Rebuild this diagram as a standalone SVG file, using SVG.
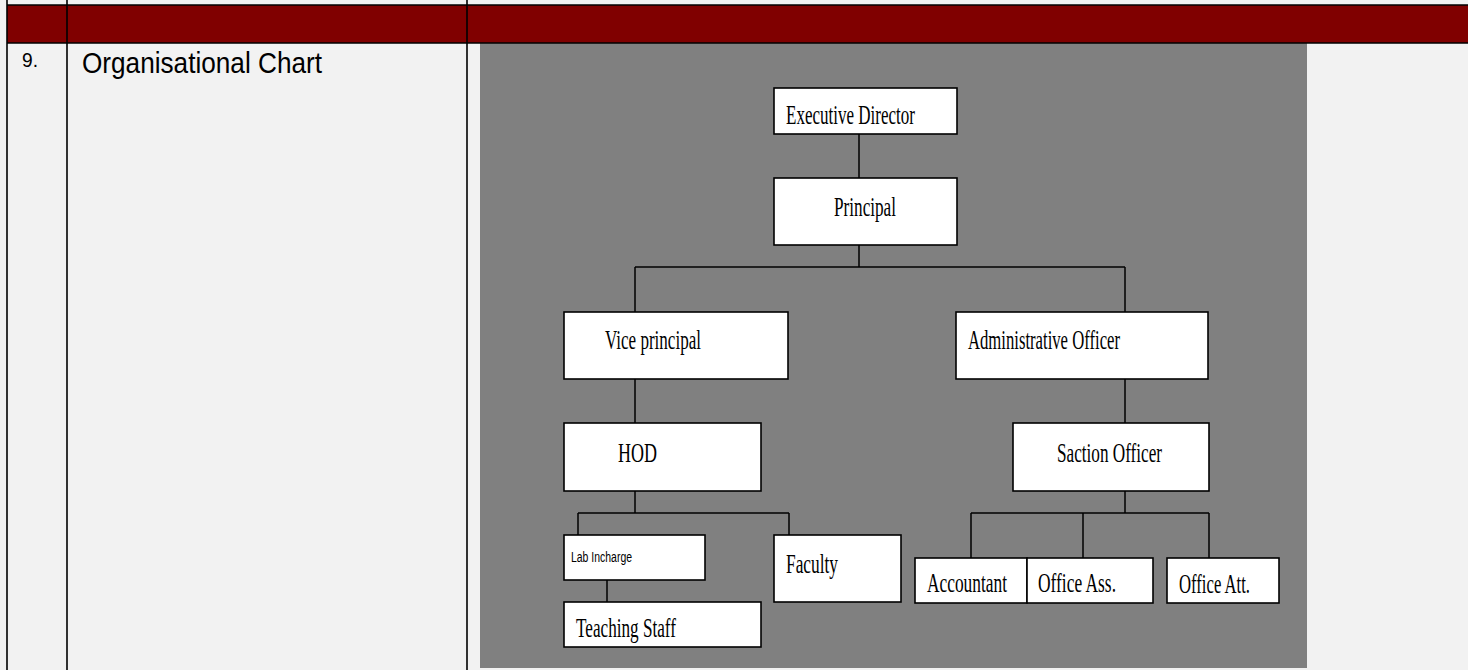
<svg xmlns="http://www.w3.org/2000/svg" width="1468" height="670" viewBox="0 0 1468 670">
  <style>
    .grid { stroke: #000; stroke-width: 1.6; fill: none; }
    .box { fill: #fff; stroke: #000; stroke-width: 1.6; }
    .lbl { font-family: "Liberation Serif", "Times New Roman", serif; font-size: 28px; fill: #000; }
    .sm { font-family: "Liberation Sans", Arial, sans-serif; font-size: 14px; fill: #000; }
    .cell { font-family: "Liberation Sans", Arial, sans-serif; fill: #000; }
    .conn line { stroke: #000; stroke-width: 1.5; }
  </style>
  <rect x="0" y="0" width="1468" height="670" fill="#f2f2f2"/>
  <rect x="7" y="5" width="1461" height="38" fill="#800000"/>
  <rect x="480" y="43" width="827" height="625" fill="#808080"/>
  <g id="table">
    <line class="grid" x1="7" y1="5" x2="1468" y2="5"/>
    <line class="grid" x1="7" y1="43" x2="1468" y2="43"/>
    <line class="grid" x1="7" y1="0" x2="7" y2="670"/>
    <line class="grid" x1="67" y1="0" x2="67" y2="670"/>
    <line class="grid" x1="467" y1="0" x2="467" y2="670"/>
    <text class="cell" x="22" y="67" font-size="21" textLength="16" lengthAdjust="spacingAndGlyphs">9.</text>
    <text class="cell" x="82" y="73" font-size="29" textLength="240" lengthAdjust="spacingAndGlyphs">Organisational Chart</text>
  </g>
  <g id="connectors" class="conn">
    <line x1="859" y1="134" x2="859" y2="178"/>
    <line x1="859" y1="245" x2="859" y2="267"/>
    <line x1="635" y1="267" x2="1125" y2="267"/>
    <line x1="635" y1="267" x2="635" y2="312"/>
    <line x1="1125" y1="267" x2="1125" y2="312"/>
    <line x1="635" y1="379" x2="635" y2="423"/>
    <line x1="1125" y1="379" x2="1125" y2="423"/>
    <line x1="635" y1="491" x2="635" y2="513"/>
    <line x1="578" y1="513" x2="789" y2="513"/>
    <line x1="578" y1="513" x2="578" y2="535"/>
    <line x1="789" y1="513" x2="789" y2="535"/>
    <line x1="607" y1="580" x2="607" y2="602"/>
    <line x1="1125" y1="491" x2="1125" y2="513"/>
    <line x1="971" y1="513" x2="1209" y2="513"/>
    <line x1="971" y1="513" x2="971" y2="558"/>
    <line x1="1083" y1="513" x2="1083" y2="558"/>
    <line x1="1209" y1="513" x2="1209" y2="558"/>
  </g>
  <g id="exec"><rect class="box" x="774" y="88" width="183" height="46"/><text class="lbl" x="786" y="124" textLength="129" lengthAdjust="spacingAndGlyphs">Executive Director</text></g>
  <g id="principal"><rect class="box" x="774" y="178" width="183" height="67"/><text class="lbl" x="834" y="216" textLength="62" lengthAdjust="spacingAndGlyphs">Principal</text></g>
  <g id="vice"><rect class="box" x="564" y="312" width="224" height="67"/><text class="lbl" x="605" y="349" textLength="96" lengthAdjust="spacingAndGlyphs">Vice principal</text></g>
  <g id="admin"><rect class="box" x="956" y="312" width="252" height="67"/><text class="lbl" x="968" y="349" textLength="152" lengthAdjust="spacingAndGlyphs">Administrative Officer</text></g>
  <g id="hod"><rect class="box" x="564" y="423" width="197" height="68"/><text class="lbl" x="618" y="462" textLength="39" lengthAdjust="spacingAndGlyphs">HOD</text></g>
  <g id="saction"><rect class="box" x="1013" y="423" width="196" height="68"/><text class="lbl" x="1057" y="462" textLength="105" lengthAdjust="spacingAndGlyphs">Saction Officer</text></g>
  <g id="lab"><rect class="box" x="564" y="535" width="141" height="45"/><text class="sm" x="571" y="562" textLength="61" lengthAdjust="spacingAndGlyphs">Lab Incharge</text></g>
  <g id="faculty"><rect class="box" x="774" y="535" width="127" height="67"/><text class="lbl" x="786" y="573" textLength="52" lengthAdjust="spacingAndGlyphs">Faculty</text></g>
  <g id="teaching"><rect class="box" x="564" y="602" width="197" height="45"/><text class="lbl" x="576" y="637" textLength="100" lengthAdjust="spacingAndGlyphs">Teaching Staff</text></g>
  <g id="accountant"><rect class="box" x="915" y="558" width="112" height="45"/><text class="lbl" transform="translate(927 592) scale(0.62 1)" x="0" y="0" textLength="129" lengthAdjust="spacingAndGlyphs">Accountant</text></g>
  <g id="officeass"><rect class="box" x="1027" y="558" width="126" height="45"/><text class="lbl" x="1038" y="592" textLength="78" lengthAdjust="spacingAndGlyphs">Office Ass.</text></g>
  <g id="officeatt"><rect class="box" x="1167" y="558" width="112" height="45"/><text class="lbl" x="1179" y="593" textLength="71" lengthAdjust="spacingAndGlyphs">Office Att.</text></g>
</svg>
